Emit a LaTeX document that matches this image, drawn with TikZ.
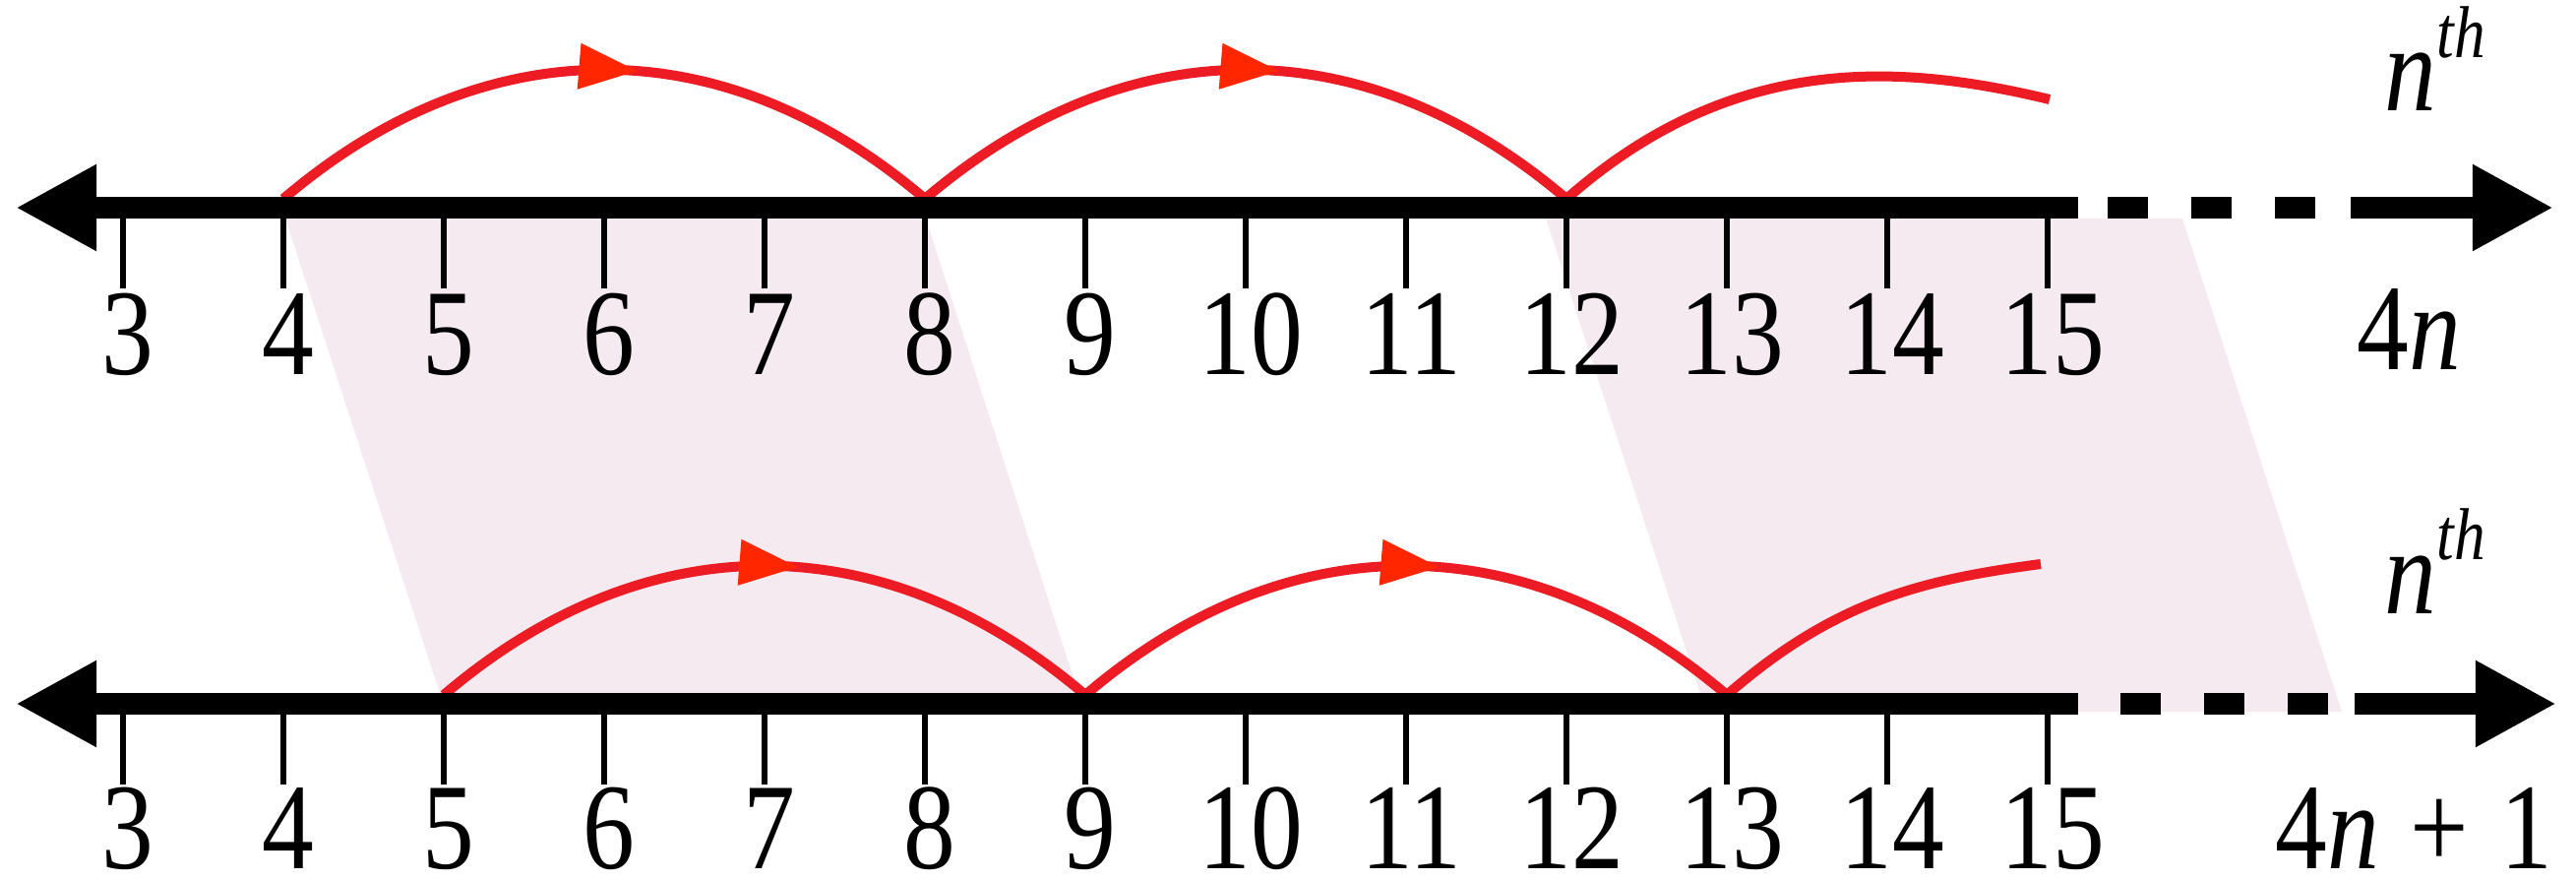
\documentclass[tikz,border=0pt]{standalone}
\usepackage{fontspec}
\setmainfont{Liberation Serif}
\usepackage{graphicx}
\usepackage{xcolor}
\usepackage{tikz}
\usetikzlibrary{arrows.meta, decorations.markings}
\definecolor{hopred}{RGB}{237, 28, 36}
\definecolor{tipred}{RGB}{255, 38, 0}
\definecolor{bandpink}{RGB}{245, 234, 240}
\newcommand{\numsize}{\fontsize{30}{36}\selectfont}
\newcommand{\supsize}{\fontsize{18}{22}\selectfont}
\newcommand{\tall}[1]{\scalebox{1}[1.18]{#1}}

\begin{document}
\begin{tikzpicture}[
  x=0.01cm, y=-0.01cm,
  axis/.style={line width=0.21cm, color=black},
  tickmark/.style={line width=0.06cm, color=black},
  hop/.style={line width=0.1cm, color=hopred},
  hopmark/.style={hop, postaction={decorate}, decoration={markings,
      mark=at position 0.548 with {\arrow{Triangle[length=0.6cm, width=0.44cm, color=tipred]}}}},
  band/.style={fill=bandpink, draw=none},
  numlabel/.style={font=\numsize, inner sep=0pt, anchor=base},
  tag/.style={font=\numsize, inner sep=0pt, anchor=base west}
]
  \useasboundingbox (0,0) rectangle (2618,894);

  % --- Shaded bands ---
  \fill[band] (290,222) -- (941,222) -- (1102,723) -- (453,723) -- cycle;
  \fill[band] (1571,222) -- (2218,222) -- (2380,723) -- (1734,723) -- cycle;

  % --- Points on the two lines ---
  \foreach \n in {3,...,15} {
    \coordinate (up\n) at ({125+163*(\n-3)}, 202);
    \coordinate (lo\n) at ({125+163*(\n-3)}, 706);
  }
  \coordinate (upend) at (2083,101);
  \coordinate (loend) at (2074,573);

  % --- Hops ---
  % 4n: 4 -> 8 -> 12 -> ...
  \draw[hopmark] (up4) .. controls +(205,-175) and +(-205,-175) .. (up8);
  \draw[hopmark] (up8) .. controls +(205,-175) and +(-205,-175) .. (up12);
  \draw[hop] (up12) .. controls +(170,-150) and +(-150,-36) .. (upend);

  % 4n+1: 5 -> 9 -> 13 -> ...
  \draw[hopmark] (lo5) .. controls +(205,-175) and +(-205,-175) .. (lo9);
  \draw[hopmark] (lo9) .. controls +(205,-175) and +(-205,-175) .. (lo13);
  \draw[hop] (lo13) .. controls +(110,-96) and +(-120,16) .. (loend);

  % --- Number lines ---
  \coordinate (ltipU) at (16,211);   \coordinate (solidU) at (2112,211);
  \coordinate (dashU) at (2142,211); \coordinate (dashUend) at (2354,211);
  \coordinate (shaftU) at (2389,211); \coordinate (rtipU) at (2595,211);
  \coordinate (ltipD) at (16,715);   \coordinate (solidD) at (2112,715);
  \coordinate (dashD) at (2155,715); \coordinate (dashDend) at (2367,715);
  \coordinate (shaftD) at (2393,715); \coordinate (rtipD) at (2598,715);

  \draw[axis, {Triangle[length=0.82cm, width=0.82cm]}-] (ltipU) -- (solidU);
  \draw[axis, dash pattern=on 0.41cm off 0.44cm] (dashU) -- (dashUend);
  \draw[axis, -{Triangle[length=0.82cm, width=0.82cm]}] (shaftU) -- (rtipU);

  \draw[axis, {Triangle[length=0.82cm, width=0.82cm]}-] (ltipD) -- (solidD);
  \draw[axis, dash pattern=on 0.41cm off 0.44cm] (dashD) -- (dashDend);
  \draw[axis, -{Triangle[length=0.82cm, width=0.82cm]}] (shaftD) -- (rtipD);

  % --- Ticks and numbers ---
  \foreach \n in {3,...,15} {
    \draw[tickmark] (up\n) ++(0,20) -- ++(0,71);
    \draw[tickmark] (lo\n) ++(0,20) -- ++(0,71);
    \node[numlabel] (tu\n) at ({130+163*(\n-3)}, 380) {\tall{\n}};
    \node[numlabel] (td\n) at ({130+163*(\n-3)}, 882) {\tall{\n}};
  }

  % --- Side labels ---
  \node[tag] (nthU) at (2423,113) {\tall{\textit{n}\raisebox{0.46cm}{\supsize\textit{th}}}};
  \node[tag] (fourn) at (2395,375) {\tall{4\textit{n}}};
  \node[tag] (nthD) at (2423,623) {\tall{\textit{n}\raisebox{0.46cm}{\supsize\textit{th}}}};
  \node[tag] (fournone) at (2312,882) {\tall{4\textit{n}\hspace{0.3em}+\hspace{0.3em}1}};

\end{tikzpicture}
\end{document}
